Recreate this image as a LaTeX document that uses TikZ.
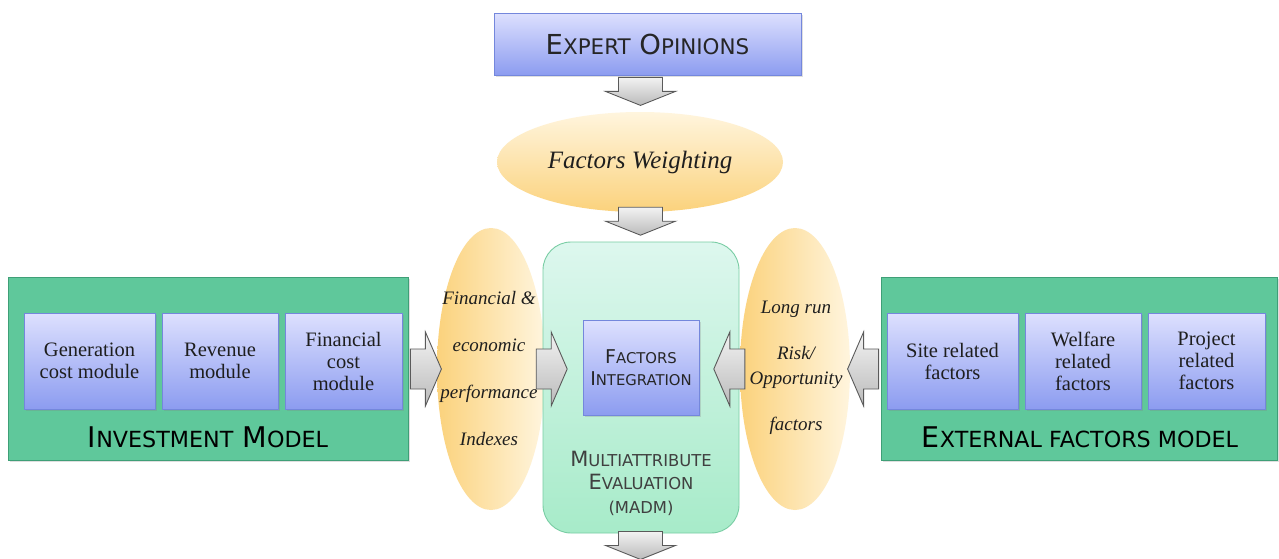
\documentclass[tikz,border=0pt]{standalone}
\usepackage{fontspec}
\setmainfont{Liberation Serif}
\newfontfamily\capsfont{DejaVu Sans}
\usetikzlibrary{shapes.geometric,shadows,calc}
\newcommand\SC[2]{#1\scalebox{0.78}{#2}}
\definecolor{bluetop}{HTML}{DDE0FE}
\definecolor{bluebot}{HTML}{8C9CF0}
\definecolor{blueedge}{HTML}{7487DC}
\definecolor{greenfill}{HTML}{5FC89B}
\definecolor{greenedge}{HTML}{3F9F77}
\definecolor{minttop}{HTML}{DDF7EE}
\definecolor{mintbot}{HTML}{A7EBC9}
\definecolor{mintedge}{HTML}{79CDA4}
\definecolor{yelldark}{HTML}{FBD27C}
\definecolor{yelllight}{HTML}{FFF5DE}
\definecolor{arredge}{HTML}{5A5A5A}
\definecolor{txt}{HTML}{1E1E1E}
\tikzset{
  bluebox/.style={rectangle, draw=blueedge, line width=0.8pt, top color=bluetop, bottom color=bluebot,
     drop shadow={opacity=0.25, shadow xshift=1.5pt, shadow yshift=-2pt}, align=center, text=txt,
     font=\rmfamily\fontsize{20.5}{22}\selectfont, inner sep=2pt},
  modelbox/.style={rectangle, draw=greenedge, line width=0.8pt, fill=greenfill,
     drop shadow={opacity=0.25, shadow xshift=1.5pt, shadow yshift=-2pt}},
  yellip/.style={ellipse, draw=none, inner sep=0pt},
  italtext/.style={font=\rmfamily\itshape\fontsize{19}{47}\selectfont, align=center, text=txt},
  capslabel/.style={font=\capsfont\fontsize{28.5}{30}\selectfont, text=black},
  arrowstyle/.style={draw=arredge, line width=0.9pt, top color=white!95!black, bottom color=black!27},
  darr/.pic={\path[arrowstyle] (-22,0) -- (22,0) -- (22,14) -- (35,14) -- (0,28) -- (-35,14) -- (-22,14) -- cycle;},
  rarr/.pic={\path[arrowstyle] (0,-20) -- (15,-20) -- (15,-37) -- (31,0) -- (15,37) -- (15,20) -- (0,20) -- cycle;},
  larr/.pic={\path[arrowstyle] (0,-20) -- (-15,-20) -- (-15,-37) -- (-31,0) -- (-15,37) -- (-15,20) -- (0,20) -- cycle;},
}
\begin{document}
\begin{tikzpicture}[x=1pt,y=-1pt]
\useasboundingbox[fill=white] (0,0) rectangle (1279,558);

% top
\node[bluebox, minimum width=307pt, minimum height=62pt, font=\capsfont\fontsize{27.5}{28}\selectfont, text=black!85]
  (expert) at (647.5,44) {\SC{E}{XPERT} \SC{O}{PINIONS}};
\node[yellip, minimum width=286pt, minimum height=100pt, top color=yelllight, bottom color=yelldark,
  font=\rmfamily\itshape\fontsize{25}{28}\selectfont, text=txt] (weight) at (640,162) {Factors Weighting};

% side ellipses
\node[yellip, minimum width=108pt, minimum height=282pt, left color=yelldark, right color=yelllight] (lell) at (491,369) {};
\node[yellip, minimum width=110pt, minimum height=282pt, left color=yelldark, right color=yelllight] (rell) at (795,369) {};

% central box
\node[rectangle, rounded corners=28pt, draw=mintedge, line width=0.9pt, top color=minttop, bottom color=mintbot,
  minimum width=196pt, minimum height=291pt] (madm) at (641,387.5) {};
\node[bluebox, minimum width=116pt, minimum height=95pt, font=\capsfont\fontsize{19}{22}\selectfont, text=black!85]
  (integ) at (641,367.5) {\SC{F}{ACTORS}\\\SC{I}{NTEGRATION}};
\node[font=\capsfont\fontsize{21}{23.5}\selectfont, text=black!75, align=center] (madmtxt) at (641,483)
  {\SC{M}{ULTIATTRIBUTE}\\\SC{E}{VALUATION}\\\scalebox{0.78}{(MADM)}};

% ellipse texts
\node[italtext] (ltxt) at (489,368) {Financial \&\\economic\\performance\\Indexes};
\node[italtext, font=\rmfamily\itshape\fontsize{19}{25}\selectfont] (rtxt) at (796,368)
  {Long run\\[21pt]Risk/\\Opportunity\\[21pt]factors};

% investment model
\node[modelbox, minimum width=400pt, minimum height=183pt] (inv) at (208,368.5) {};
\node[bluebox, minimum width=131pt, minimum height=96pt] (gen) at (89.5,361) {Generation\\cost module};
\node[bluebox, minimum width=116pt, minimum height=96pt] (rev) at (220,361) {Revenue\\module};
\node[bluebox, minimum width=117pt, minimum height=96pt] (fin) at (343.5,361) {Financial\\cost\\module};
\node[capslabel] (invlbl) at (208,437) {\SC{I}{NVESTMENT} \SC{M}{ODEL}};

% external factors model
\node[modelbox, minimum width=396pt, minimum height=183pt] (ext) at (1079,368.5) {};
\node[bluebox, minimum width=131pt, minimum height=96pt] (site) at (952.5,361) {Site related\\factors};
\node[bluebox, minimum width=116pt, minimum height=96pt] (welf) at (1083,361) {Welfare\\related\\factors};
\node[bluebox, minimum width=117pt, minimum height=96pt] (proj) at (1206.5,361) {Project\\related\\factors};
\node[capslabel] (extlbl) at (1080,437) {\SC{E}{XTERNAL FACTORS MODEL}};

% block arrows
\pic at ($(expert.south)+(-7,2)$) {darr};
\pic at ($(weight.south)+(0.5,-5)$) {darr};
\pic at ($(madm.south)+(-0.5,-2)$) {darr};
\pic at ($(inv.east)+(2,0.5)$) {rarr};
\pic at ($(lell.east)+(-9,0)$) {rarr};
\pic at ($(rell.west)+(5,0)$) {larr};
\pic at ($(ext.west)+(-2,0.5)$) {larr};
\end{tikzpicture}
\end{document}
